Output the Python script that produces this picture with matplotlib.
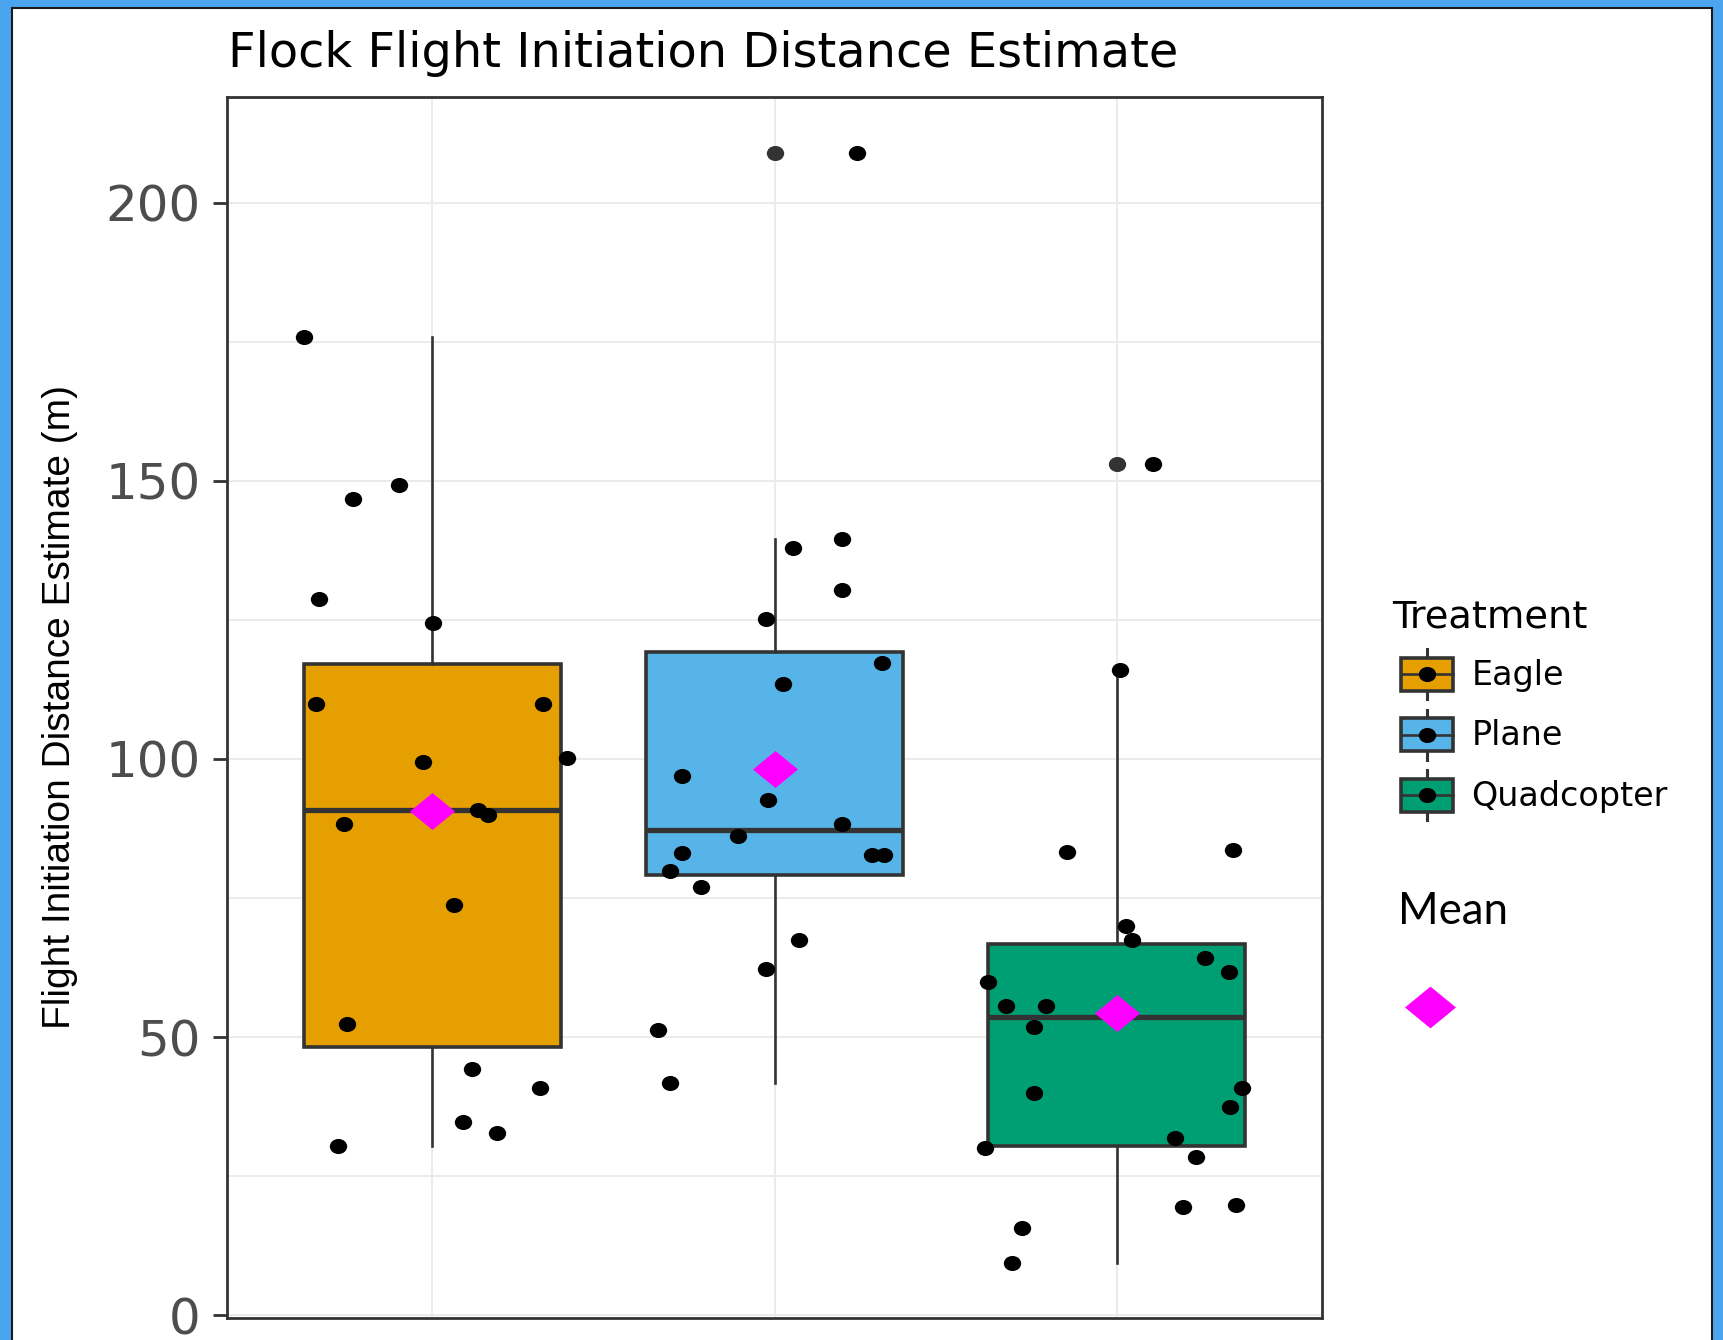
import numpy as np
import matplotlib
matplotlib.use("Agg")
import matplotlib.pyplot as plt
from matplotlib.path import Path
from matplotlib.patches import Rectangle, Patch
from matplotlib.lines import Line2D
from matplotlib.legend_handler import HandlerBase

# flight initiation distance (m) per treatment
treatments = ["Eagle", "Plane", "Quadcopter"]
box_colors = ["#E69F00", "#56B4E9", "#009E73"]

eagle_fid = [175.9, 149.3, 146.8, 128.8, 124.5, 109.8, 109.8, 100.2, 99.4, 90.8,
             89.9, 88.4, 73.7, 52.3, 44.2, 40.8, 34.7, 32.8, 30.4]
plane_fid = [209.0, 139.5, 138.0, 130.4, 125.2, 117.2, 113.5, 97.0, 92.7, 88.4,
             86.1, 83.1, 82.7, 82.7, 79.9, 77.0, 67.4, 62.2, 51.3, 41.8]
quad_fid = [153.1, 116.0, 83.6, 83.2, 69.9, 67.5, 64.2, 61.7, 59.9, 55.6, 55.6,
            51.8, 40.9, 39.9, 37.5, 31.9, 30.0, 28.5, 19.9, 19.5, 15.7, 9.5]

# horizontal jitter of each point (category units), as seen in the chart
eagle_jitter = [-0.375, -0.097, -0.231, -0.330, 0.001, -0.339, 0.324, 0.395, -0.026, 0.134,
                0.162, -0.259, 0.064, -0.249, 0.117, 0.315, 0.090, 0.190, -0.277]
plane_jitter = [0.242, 0.198, 0.054, 0.198, -0.026, 0.314, 0.026, -0.269, -0.018, 0.198,
                -0.108, -0.269, 0.284, 0.319, -0.304, -0.214, 0.072, -0.026, -0.340, -0.304]
quad_jitter = [0.106, 0.009, 0.339, -0.144, 0.026, 0.044, 0.258, 0.329, -0.377, -0.324, -0.207,
               -0.242, 0.366, -0.242, 0.330, 0.169, -0.386, 0.231, 0.350, 0.195, -0.278, -0.307]

y_ticks = [0, 50, 100, 150, 200]
y_minor = [25, 75, 125, 175]

title = "Flock Flight Initiation Distance Estimate"
y_label = "Flight Initiation Distance Estimate (m)"

data = [eagle_fid, plane_fid, quad_fid]
jitters = [eagle_jitter, plane_jitter, quad_jitter]
positions = np.arange(1, len(treatments) + 1)

# screenshot is slightly stretched sideways, so dots are wide ellipses
circ = Path.unit_circle()
dot = Path(circ.vertices * [1.15, 1.0], circ.codes)
diamond = Path([(-1.22, 0), (0, 1), (1.22, 0), (0, -1), (-1.22, 0)],
               [Path.MOVETO, Path.LINETO, Path.LINETO, Path.LINETO, Path.CLOSEPOLY])

dark = "#333333"
W, H = 1723, 1340


def fx(px):
    return px / W


def fy(py):
    return 1 - py / H


fig = plt.figure(figsize=(W / 100, H / 100), dpi=100, facecolor="#4aa5ee")

# white window of the screenshot
win = Rectangle((fx(12), -0.01), fx(1712) - fx(12), fy(8) + 0.01, transform=fig.transFigure,
                facecolor="white", edgecolor="#1a1a1a", lw=1.5, zorder=-1)
fig.add_artist(win)

ax = fig.add_axes([fx(227), fy(1318), fx(1322) - fx(227), fy(97) - fy(1318)])
ax.set_facecolor("white")

bp = ax.boxplot(data, positions=positions, widths=0.75, whis=1.5, patch_artist=True,
                showcaps=False,
                boxprops=dict(edgecolor=dark, lw=2.6),
                medianprops=dict(color=dark, lw=3.8),
                whiskerprops=dict(color=dark, lw=1.9),
                flierprops=dict(marker=dot, markerfacecolor=dark, markeredgecolor="none",
                                markersize=12.5),
                zorder=2)
for patch, c in zip(bp["boxes"], box_colors):
    patch.set_facecolor(c)

# jittered raw points
for pos, vals, jit in zip(positions, data, jitters):
    ax.plot(pos + np.array(jit), vals, ls="none", marker=dot, markersize=12.5,
            color="black", markeredgecolor="none", zorder=3)

# means
means = [np.mean(v) for v in data]
ax.plot(positions, means, ls="none", marker=diamond, markersize=32.5,
        color="#FF00FF", markeredgecolor="none", zorder=4)

all_vals = np.concatenate(data)
rng = all_vals.max() - all_vals.min()
ax.set_ylim(all_vals.min() - 0.05 * rng, all_vals.max() + 0.05 * rng)
ax.set_xlim(0.4, len(treatments) + 0.6)

ax.set_yticks(y_ticks)
ax.set_yticks(y_minor, minor=True)
ax.set_xticks(positions)
ax.set_xticklabels([])
ax.tick_params(axis="x", length=0)
ax.tick_params(axis="y", which="major", length=10, width=2, color=dark, pad=9,
               labelsize=36, labelcolor="#4d4d4d")
ax.tick_params(axis="y", which="minor", length=0)
ax.grid(True, which="major", color="#ebebeb", lw=1.4)
ax.grid(True, which="minor", axis="y", color="#ebebeb", lw=1.4)
ax.set_axisbelow(True)
for s in ax.spines.values():
    s.set_color(dark)
    s.set_linewidth(2)
for lab in ax.get_yticklabels():
    lab.set_family("DejaVu Sans")

fig.text(fx(228), fy(67), title, fontsize=34.5, family="DejaVu Sans", color="black",
         ha="left", va="baseline")
fig.text(fx(60), fy(707), y_label, rotation=90, fontsize=28,
         family=["Liberation Sans Narrow", "Liberation Sans", "DejaVu Sans"],
         ha="center", va="center", color="black")


class BoxKey(HandlerBase):
    # ggplot-style boxplot key, set in a little from the legend title
    def create_artists(self, legend, orig_handle, xdescent, ydescent, width, height,
                       fontsize, trans):
        inset = 6.5
        x0, y0 = -xdescent + inset, -ydescent
        w = width - inset
        bh = height * 0.66
        by = y0 + (height - bh) / 2
        cx, cy = x0 + w / 2, y0 + height / 2
        wl = Line2D([cx, cx], [y0, y0 + height], color=dark, lw=2.2, transform=trans)
        rect = Rectangle((x0, by), w, bh, facecolor=orig_handle.get_facecolor(),
                         edgecolor=dark, lw=2.6, transform=trans)
        med = Line2D([x0, x0 + w], [cy, cy], color=dark, lw=1.9, transform=trans)
        pt = Line2D([cx], [cy], marker=dot, markersize=12.5, color="black",
                    markeredgecolor="none", transform=trans)
        return [wl, rect, med, pt]


handles = [Patch(facecolor=c) for c in box_colors]
leg = ax.legend(handles, treatments, handler_map={Patch: BoxKey()},
                loc="upper left", bbox_to_anchor=(fx(1392), fy(599)),
                bbox_transform=fig.transFigure, frameon=False, borderpad=0,
                borderaxespad=0, fontsize=24, handlelength=1.82, handleheight=1.93,
                labelspacing=0.32, handletextpad=0.56,
                title="Treatment", title_fontsize=27.6, alignment="left")
for t in leg.get_texts():
    t.set_family("DejaVu Sans")
# a bit more room under the legend title, as in the original
leg._legend_box.sep += 2.5

# separate "Mean" key pasted next to the legend
fig.text(fx(1398), fy(924), "Mean", fontsize=31.5, family=["Lato", "DejaVu Sans"],
         color="black", ha="left", va="baseline")
fig.add_artist(Line2D([fx(1430)], [fy(1007)], transform=fig.transFigure, ls="none",
                      marker=diamond, markersize=36.7, color="#FF00FF",
                      markeredgecolor="none"))

fig.savefig("out.png", dpi=100, facecolor=fig.get_facecolor())
